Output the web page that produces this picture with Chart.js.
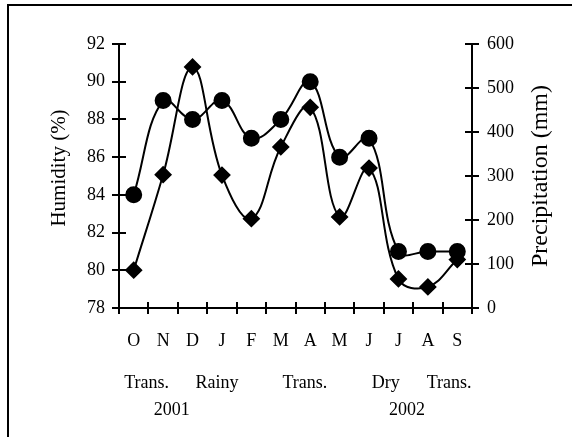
<!DOCTYPE html>
<html>
<head>
<meta charset="utf-8">
<script src="https://cdn.jsdelivr.net/npm/chart.js@4"></script>
<style>
  html, body { margin: 0; padding: 0; background: #fff; overflow: hidden; }
  #wrap { position: relative; width: 572px; height: 437px; overflow: hidden; }
  #frame { position: absolute; left: 7px; top: 4px; right: -10px; bottom: -10px;
           border-left: 2px solid #000; border-top: 2px solid #000; pointer-events: none; }
</style>
</head>
<body>
<div id="wrap">
  <canvas id="chart"></canvas>
  <div id="frame"></div>
</div>
<script>
// data
const months = ['O', 'N', 'D', 'J', 'F', 'M', 'A', 'M', 'J', 'J', 'A', 'S'];
const humidity = [84, 89, 88, 89, 87, 88, 90, 86, 87, 81, 81, 81];
const precipitation = [86, 303, 548, 302, 203, 366, 456, 207, 318, 66, 48, 110];
const humidityRange = [78, 92, 2];
const precipRange = [0, 600, 100];
const seasons = ['Trans.', 'Rainy', 'Trans.', 'Dry', 'Trans.'];
const years = ['2001', '2002'];

// where the season / year captions sit, in category units
const seasonAt = [0.44, 2.83, 5.82, 8.57, 10.72];
const yearAt = [1.29, 9.29];

const FONT = "'Liberation Serif', 'Times New Roman', serif";
Chart.defaults.color = '#000';
Chart.defaults.font.family = FONT;

// cross ticks, captions under the months and rotated axis titles
const extras = {
    id: 'extras',
    afterDraw(chart) {
        const ctx = chart.ctx;
        const x = chart.scales.x, y = chart.scales.y, y1 = chart.scales.y1;
        const area = chart.chartArea;
        ctx.save();
        ctx.strokeStyle = '#000';
        ctx.lineWidth = 2;
        ctx.beginPath();
        y.ticks.forEach(t => {
            const py = Math.round(y.getPixelForValue(t.value));
            ctx.moveTo(area.left - 7, py);
            ctx.lineTo(area.left + 7, py);
        });
        y1.ticks.forEach(t => {
            const py = Math.round(y1.getPixelForValue(t.value));
            ctx.moveTo(area.right - 7, py);
            ctx.lineTo(area.right + 7, py);
        });
        for (let i = 0; i <= months.length; i++) {
            const px = Math.round(x.getPixelForValue(i - 0.5));
            ctx.moveTo(px, area.bottom - 6);
            ctx.lineTo(px, area.bottom + 6);
        }
        ctx.stroke();

        ctx.fillStyle = '#000';
        ctx.font = '18px ' + FONT;
        ctx.textAlign = 'center';
        ctx.textBaseline = 'alphabetic';
        seasons.forEach((s, i) => ctx.fillText(s, x.getPixelForValue(seasonAt[i]), 388));
        years.forEach((s, i) => ctx.fillText(s, x.getPixelForValue(yearAt[i]), 415));

        ctx.textBaseline = 'middle';
        ctx.save();
        ctx.translate(59, 168);
        ctx.rotate(-Math.PI / 2);
        ctx.font = '21px ' + FONT;
        ctx.fillText('Humidity (%)', 0, 0);
        ctx.restore();
        ctx.save();
        ctx.translate(541, 176);
        ctx.rotate(-Math.PI / 2);
        ctx.font = '24px ' + FONT;
        ctx.fillText('Precipitation (mm)', 0, 0);
        ctx.restore();
        ctx.restore();
    }
};

new Chart(document.getElementById('chart'), {
    type: 'line',
    data: {
        labels: months,
        datasets: [{
            label: 'Humidity',
            data: humidity,
            yAxisID: 'y',
            borderColor: '#000',
            borderWidth: 2,
            backgroundColor: '#000',
            pointStyle: 'circle',
            pointRadius: 7.5,
            pointBackgroundColor: '#000',
            pointBorderColor: '#000',
            tension: 0.4,
            fill: false
        }, {
            label: 'Precipitation',
            data: precipitation,
            yAxisID: 'y1',
            borderColor: '#000',
            borderWidth: 2,
            backgroundColor: '#000',
            pointStyle: 'rectRot',
            pointRadius: 7.5,
            pointBackgroundColor: '#000',
            pointBorderColor: '#000',
            tension: 0.4,
            fill: false
        }]
    },
    options: {
        responsive: true,
        maintainAspectRatio: false,
        animation: false,
        layout: { padding: { top: 44, left: 0, right: 0, bottom: 0 } },
        plugins: {
            legend: { display: false },
            tooltip: { enabled: false }
        },
        scales: {
            x: {
                offset: true,
                grid: { display: false, drawTicks: false },
                border: { display: true, color: '#000', width: 2 },
                ticks: { padding: 22, font: { size: 18 }, maxRotation: 0, autoSkip: false },
                afterFit: s => { s.height = 129; }
            },
            y: {
                position: 'left',
                min: humidityRange[0],
                max: humidityRange[1],
                grid: { display: false, drawTicks: false },
                border: { display: true, color: '#000', width: 2 },
                ticks: { stepSize: humidityRange[2], padding: 14, font: { size: 18 } },
                afterFit: s => { s.width = 119; }
            },
            y1: {
                position: 'right',
                min: precipRange[0],
                max: precipRange[1],
                grid: { display: false, drawTicks: false },
                border: { display: true, color: '#000', width: 2 },
                ticks: { stepSize: precipRange[2], padding: 15, font: { size: 18 } },
                afterFit: s => { s.width = 100; }
            }
        }
    },
    plugins: [extras]
});
</script>
</body>
</html>
